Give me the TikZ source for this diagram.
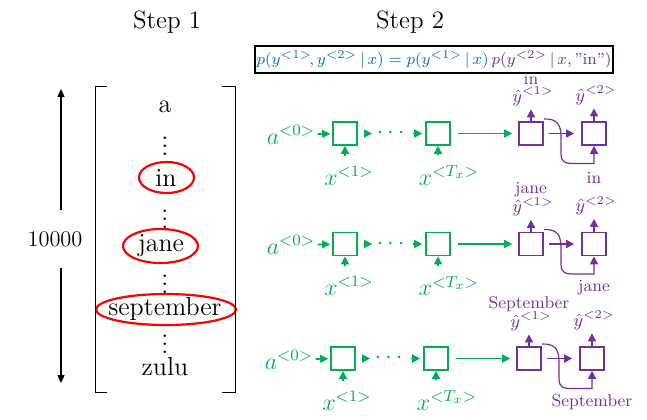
\documentclass[tikz,border=0pt]{standalone}
\usepackage{amsmath,amssymb}
\usetikzlibrary{arrows.meta,shapes.geometric}
\definecolor{encgreen}{RGB}{0,176,80}
\definecolor{decpurple}{RGB}{112,48,160}
\definecolor{eqblue}{RGB}{0,112,192}
\tikzset{
  cell/.style={draw, line width=0.8pt, minimum width=12pt, minimum height=11.5pt, inner sep=0pt},
  garrow/.style={-{Triangle[length=4pt,width=4pt]}, line width=0.8pt, draw=encgreen},
  parrow/.style={-{Triangle[length=4pt,width=4pt]}, line width=0.8pt, draw=decpurple},
  glabel/.style={text=encgreen, inner sep=1pt, font=\fontsize{11.5}{13}\selectfont},
  plabel/.style={text=decpurple, inner sep=1pt, font=\fontsize{9}{11}\selectfont},
  pword/.style={text=decpurple, inner sep=1pt, font=\fontsize{8.5}{10}\selectfont},
  vocab/.style={inner sep=1pt, font=\fontsize{13}{15}\selectfont},
  ring/.style={ellipse, draw=red, line width=1.1pt, inner sep=0pt},
}
\begin{document}
\begin{tikzpicture}[x=0.5pt,y=-0.5pt]
  \useasboundingbox (0,0) rectangle (647,419);
  % step 1: the vocabulary
  \node[font=\fontsize{12.5}{15}\selectfont] (step1) at (167,22) {Step 1};
  \node[font=\fontsize{12.5}{15}\selectfont] (step2) at (410,22) {Step 2};
  \node[vocab] (a) at (165,107) {a};
  \node[vocab] (d1) at (165,140) {$\vdots$};
  \node[vocab] (in) at (166,178) {in};
  \node[vocab] (d2) at (165,213) {$\vdots$};
  \node[vocab] (jane) at (161,246) {jane};
  \node[vocab] (d3) at (165,278) {$\vdots$};
  \node[vocab] (sept) at (165,309) {september};
  \node[vocab] (d4) at (165,338) {$\vdots$};
  \node[vocab] (zulu) at (165,367) {zulu};
  \node[ring, minimum width=27.5pt, minimum height=15.5pt] (in-ring) at (166.5,177.5) {};
  \node[ring, minimum width=37.5pt, minimum height=17pt] (jane-ring) at (160.5,246) {};
  \node[ring, minimum width=70pt, minimum height=15.5pt] (sept-ring) at (166,309.5) {};
  \draw[line width=0.5pt] (107,86) -- (95,86) -- (95,392) -- (107,392);
  \draw[line width=0.5pt] (222,86) -- (235,86) -- (235,392) -- (222,392);
  \node[font=\fontsize{11.2}{13}\selectfont] (count) at (55,239) {10000};
  \coordinate (top) at (61,89);
  \coordinate (bot) at (61,383);
  \draw[-{Triangle[length=4pt,width=3.5pt]}, line width=0.6pt, shorten <=7pt] (count.north -| top) -- (top);
  \draw[-{Triangle[length=4pt,width=3.5pt]}, line width=0.6pt, shorten <=7pt] (count.south -| bot) -- (bot);
  % step 2: the probability
  \node[draw, line width=1pt, minimum width=174pt, minimum height=13.5pt, inner sep=1pt,
        text=eqblue, font=\fontsize{8}{10}\selectfont] (eq) at (434,59.5)
    {$p(y^{<1>}\!,y^{<2>}\,|\,x)=p(y^{<1>}\,|\,x)\,{\color{decpurple}p(y^{<2>}\,|\,x,\text{"in"})}$};
  % step 2: one encoder-decoder per candidate word
  \foreach \r/\yy/\dx/\word in {1/133.5/0/in, 2/244/0/jane, 3/358.5/-2/September} {
    \begin{scope}[xshift=\dx*0.5pt]
      \node[glabel] (a0-\r) at (291,\yy+1) {$a^{<0>}$};
      \node[cell, draw=encgreen] (enc1-\r) at (345,\yy) {};
      \node[glabel] (dots-\r) at (392.5,\yy) {$\cdots$};
      \node[cell, draw=encgreen] (enc2-\r) at (438,\yy) {};
      \node[glabel] (x1-\r) at (349,\yy+42) {$x^{<1>}$};
      \node[glabel] (xT-\r) at (449,\yy+42) {$x^{<T_x>}$};
      \node[cell, draw=decpurple] (dec1-\r) at (531,\yy) {};
      \node[cell, draw=decpurple] (dec2-\r) at (594,\yy) {};
      \node[plabel] (yh1-\r) at (533,\yy-37) {$\hat{y}^{<1>}$};
      \node[plabel] (yh2-\r) at (596,\yy-38) {$\hat{y}^{<2>}$};
      \node[pword] (wtop-\r) at (531,\yy-54.5) {\word};
      \node[pword] (wbot-\r) at (594,\yy+44) {\word};
      \draw[garrow, shorten >=1pt] (a0-\r) -- (enc1-\r);
      \draw[garrow, shorten <=3pt, shorten >=1pt] (enc1-\r) -- (dots-\r);
      \draw[garrow, shorten <=1pt, shorten >=1.5pt] (dots-\r) -- (enc2-\r);
      \draw[garrow, shorten <=3.5pt, shorten >=3pt] (enc2-\r) -- (dec1-\r);
      \draw[garrow, shorten <=4pt] (x1-\r.north -| enc1-\r.south) -- (enc1-\r.south);
      \draw[garrow, shorten <=4pt] (xT-\r.north -| enc2-\r.south) -- (enc2-\r.south);
      \draw[parrow, shorten <=2.5pt, shorten >=3.5pt] (dec1-\r) -- (dec2-\r);
      \draw[parrow, shorten >=0.5pt] (dec1-\r.north) -- (dec1-\r.north |- yh1-\r.south);
      \draw[parrow, shorten >=0.5pt] (dec2-\r.north) -- (dec2-\r.north |- yh2-\r.south);
      \coordinate (feed-\r) at (544,\yy-14.5);
      \draw[parrow, line width=0.6pt] (feed-\r) .. controls (558,\yy-15) and (561,\yy-8) .. (561,\yy+4)
        -- (561,\yy+20) .. controls (561,\yy+29) and (565,\yy+30) .. (575,\yy+30)
        -| (dec2-\r.south);
    \end{scope}
  }
\end{tikzpicture}
\end{document}
